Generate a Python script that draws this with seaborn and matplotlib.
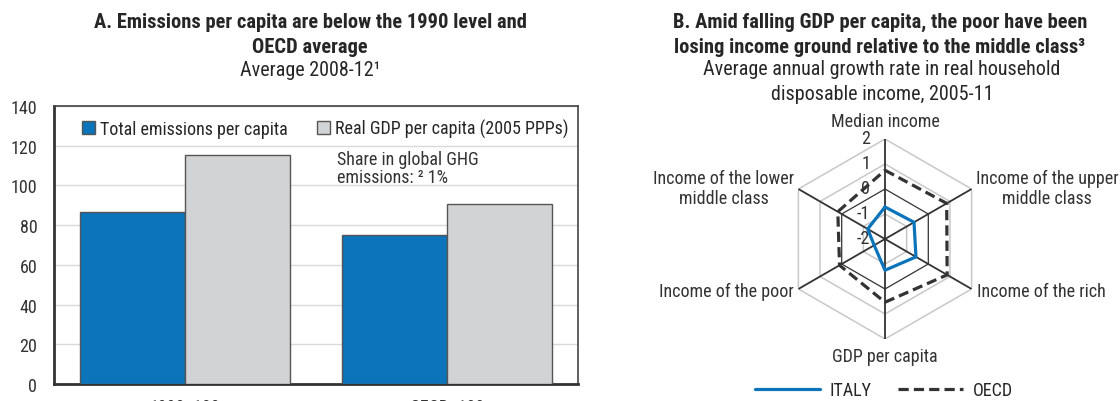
import matplotlib
matplotlib.use("Agg")
import matplotlib.pyplot as plt
import numpy as np
import pandas as pd
import seaborn as sns
from matplotlib import font_manager

BLUE = "#0B74BA"
GREY = "#D1D3D5"
DARK = "#333333"
LIGHT = "#C8C8C8"

# Panel A: index values, average 2008-12
bases = ["1990=100", "OECD=100"]
series_names = ["Total emissions per capita", "Real GDP per capita (2005 PPPs)"]
emissions = [86.4, 75.0]
gdp = [115.4, 90.4]

# Panel B: average annual growth rate, 2005-11 (clockwise from top)
spokes = [
    "Median income",
    "Income of the upper\nmiddle class",
    "Income of the rich",
    "GDP per capita",
    "Income of the poor",
    "Income of the lower\nmiddle class",
]
italy = [-0.72, -0.66, -0.57, -0.75, -1.5, -1.2]
oecd = [0.75, 0.85, 0.87, 0.53, 0.1, 0.18]
rings = [-2, -1, 0, 1, 2]

W, H = 1120, 402


def main() -> None:
    sns.set_style("white")
    names = {f.name for f in font_manager.fontManager.ttflist}
    narrow = [n for n in ["Roboto Condensed", "Liberation Sans Narrow"] if n in names]
    plt.rcParams["font.family"] = narrow + ["Liberation Sans", "DejaVu Sans"]
    plt.rcParams["text.color"] = "#262626"
    # condensed faces fit the reference widths at a larger size
    fs = 13 if narrow else 11.5
    ts = 14.8 if narrow else 12.8
    ss = 14.5 if narrow else 12.5

    fig = plt.figure(figsize=(W / 100, H / 100), dpi=100)

    # ---- panel A: grouped bars ----
    ax = fig.add_axes([54 / W, 17 / H, 524 / W, 278 / H])
    df = pd.DataFrame(
        {
            "base": bases * 2,
            "series": [series_names[0]] * 2 + [series_names[1]] * 2,
            "value": emissions + gdp,
        }
    )
    sns.barplot(
        data=df,
        x="base",
        y="value",
        hue="series",
        palette=[BLUE, GREY],
        saturation=1,
        width=0.8,
        edgecolor="#555555",
        linewidth=1,
        ax=ax,
        zorder=3,
    )
    ax.set_xlim(-0.5, 1.5)
    ax.set_ylim(0, 140)
    ax.set_yticks(range(0, 141, 20))
    ax.yaxis.grid(True, color="#D9D9D9", lw=1)
    ax.set_axisbelow(True)
    ax.set_xlabel("")
    ax.set_ylabel("")
    for side in ["left", "bottom"]:
        ax.spines[side].set_linewidth(2)
        ax.spines[side].set_color(DARK)
    for side in ["top", "right"]:
        ax.spines[side].set_linewidth(1.2)
        ax.spines[side].set_color("#444444")
    ax.tick_params(axis="y", length=0, labelsize=fs, labelcolor=DARK, pad=12)
    ax.tick_params(axis="x", which="major", length=0, labelsize=fs, labelcolor=DARK, pad=10)
    ax.set_xticks([0.5], minor=True)
    ax.tick_params(axis="x", which="minor", direction="in", length=6, width=1.2, color=DARK)

    handles, labels = ax.get_legend_handles_labels()
    ax.legend(
        handles,
        labels,
        loc="upper left",
        bbox_to_anchor=(0.04, 0.98),
        ncol=2,
        frameon=False,
        fontsize=fs,
        handlelength=0.7,
        handleheight=0.7,
        handletextpad=0.3,
        columnspacing=1.6,
        borderaxespad=0,
    )
    ax.text(0.58, 99.5, "Share in global GHG\nemissions: ² 1%", fontsize=fs,
            ha="left", va="bottom", linespacing=1.05, color=DARK)

    fig.text(310 / W, 1 - 13 / H,
             "A. Emissions per capita are below the 1990 level and\nOECD average",
             ha="center", va="top", fontsize=ts, fontweight="bold", linespacing=1.4)
    fig.text(310 / W, 1 - 71 / H, "Average 2008-12¹", ha="center", va="center", fontsize=ss)

    # ---- panel B: radar ----
    rx = fig.add_axes([785 / W, 62 / H, 200 / W, 200 / H], projection="polar")
    rx.set_theta_zero_location("N")
    rx.set_theta_direction(-1)
    rx.set_ylim(-2, 2)
    rx.grid(False)
    rx.set_xticks([])
    rx.set_yticks([])
    rx.spines["polar"].set_visible(False)
    rx.patch.set_alpha(0)

    theta = np.linspace(0, 2 * np.pi, len(spokes), endpoint=False)
    closed = np.append(theta, theta[0])
    for r in rings[1:]:
        rx.plot(closed, [r] * len(closed), color=DARK if r == 0 else LIGHT,
                lw=0.9 if r == 0 else 1.1, zorder=1)
    for t in theta:
        rx.plot([t, t], [-2, 2], color=DARK, lw=1.3, zorder=2)

    for r in rings:
        rx.annotate(str(r), xy=(0, r), xytext=(-15, 1), textcoords="offset pixels",
                    ha="right", va="center", fontsize=fs, color=DARK, zorder=3)

    rx.plot(closed, italy + italy[:1], color=BLUE, lw=2.3, zorder=5, label="ITALY")
    rx.plot(closed, oecd + oecd[:1], color=DARK, lw=2.3, ls=(0, (3.2, 1.6)),
            zorder=4, label="OECD")

    placements = [
        ((0, 9), "center", "bottom"),
        ((4, 1), "left", "center"),
        ((5, -2), "left", "center"),
        ((0, -8), "center", "top"),
        ((-5, -2), "right", "center"),
        ((-4, 1), "right", "center"),
    ]
    for t, name, (off, ha, va) in zip(theta, spokes, placements):
        rx.annotate(name, xy=(t, 2), xytext=off, textcoords="offset pixels",
                    ha=ha, va=va, fontsize=fs, color=DARK, multialignment="center",
                    annotation_clip=False)

    fig.text(880 / W, 1 - 13 / H,
             "B. Amid falling GDP per capita, the poor have been\n"
             "losing income ground relative to the middle class³",
             ha="center", va="top", fontsize=ts, fontweight="bold", linespacing=1.4)
    fig.text(882 / W, 1 - 82 / H,
             "Average annual growth rate in real household\ndisposable income, 2005-11",
             ha="center", va="center", fontsize=ss, linespacing=1.38)

    h2, l2 = rx.get_legend_handles_labels()
    fig.legend(h2, l2, loc="center", bbox_to_anchor=(884 / W, 11 / H), ncol=2,
               frameon=False, fontsize=fs, handlelength=3.6, columnspacing=1.5,
               handletextpad=0.5, borderaxespad=0)

    fig.savefig("out.png", dpi=100)
    plt.close(fig)


if __name__ == "__main__":
    main()
